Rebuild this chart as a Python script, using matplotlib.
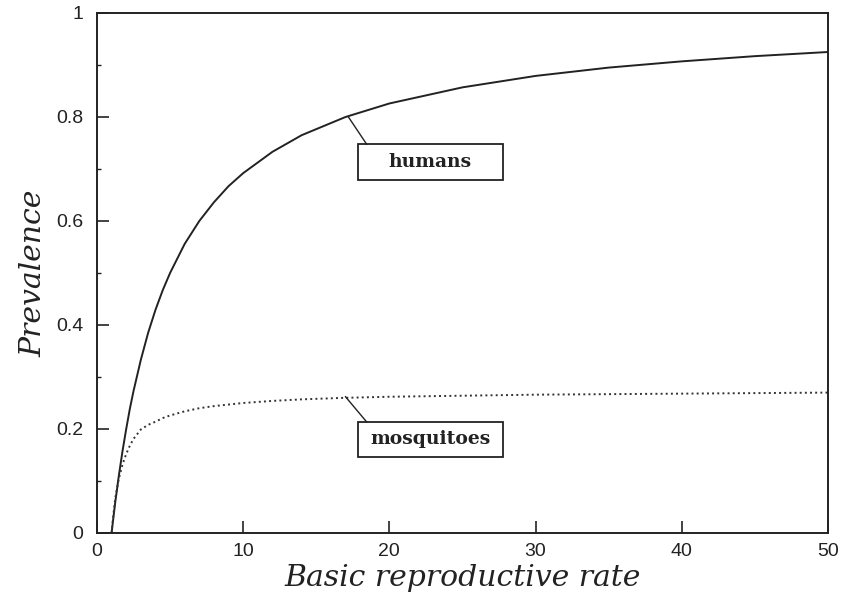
import matplotlib
matplotlib.use("Agg")
from matplotlib import pyplot as plt
from matplotlib.patches import Rectangle
from matplotlib.ticker import MultipleLocator, FuncFormatter

# Basic reproductive rate (R0) and equilibrium prevalence
r0 = [1, 1.1, 1.25, 1.5, 1.75, 2, 2.25, 2.5, 3, 3.5, 4, 4.5, 5, 6, 7, 8,
      9, 10, 12, 14, 17, 20, 25, 30, 35, 40, 45, 50]
humans = [0, 0.024, 0.059, 0.111, 0.158, 0.200, 0.239, 0.273, 0.333,
          0.385, 0.429, 0.467, 0.500, 0.556, 0.600, 0.636, 0.667, 0.692,
          0.733, 0.765, 0.800, 0.826, 0.857, 0.879, 0.895, 0.907, 0.917,
          0.925]
mosquitoes = [0, 0.030, 0.067, 0.105, 0.132, 0.152, 0.168, 0.181, 0.199,
              0.208, 0.214, 0.221, 0.226, 0.234, 0.240, 0.244, 0.247,
              0.250, 0.254, 0.257, 0.260, 0.262, 0.264, 0.266, 0.267,
              0.268, 0.269, 0.270]

# label boxes: text, point on curve, box centre, box size (data units)
labels = [
    ("humans", (17.2, 0.800), (22.8, 0.713), (9.9, 0.069)),
    ("mosquitoes", (17.0, 0.262), (22.8, 0.180), (9.9, 0.067)),
]

fig = plt.figure(figsize=(8.41, 5.99), dpi=100)
ax = fig.add_axes([0.1153, 0.1102, 0.8692, 0.8681])

ax.plot(r0, humans, "-", color="#222222", lw=1.4)
ax.plot(r0, mosquitoes, ":", color="#333333", lw=1.4)

for text, pt, centre, size in labels:
    w, h = size
    x0 = centre[0] - w / 2
    y0 = centre[1] - h / 2
    ax.add_patch(Rectangle((x0, y0), w, h, fill=False, ec="#222222", lw=1.3))
    ax.plot([pt[0], x0 + 0.6], [pt[1], y0 + h], "-", color="#222222", lw=1.0)
    ax.text(centre[0], centre[1], text, ha="center", va="center",
            fontsize=13.5, fontweight="bold", family="DejaVu Serif",
            color="#222222")

ax.set_xlim(0, 50)
ax.set_ylim(0, 1)
ax.xaxis.set_major_locator(MultipleLocator(10))
ax.yaxis.set_major_locator(MultipleLocator(0.2))
ax.yaxis.set_minor_locator(MultipleLocator(0.1))
fmt = FuncFormatter(lambda v, p: "%g" % round(v, 2))
ax.xaxis.set_major_formatter(fmt)
ax.yaxis.set_major_formatter(fmt)

ax.tick_params(which="both", direction="in", top=False, right=False,
               color="#222222", labelcolor="#222222", labelsize=14)
ax.tick_params(which="major", length=8.5, width=1.2)
ax.tick_params(which="minor", length=3, width=1.0)
ax.tick_params(axis="x", which="major", pad=7)
ax.tick_params(axis="y", which="major", pad=10)
for lab in ax.get_xticklabels() + ax.get_yticklabels():
    lab.set_family("Liberation Sans")
for s in ax.spines.values():
    s.set_linewidth(1.4)
    s.set_color("#222222")

ax.set_xlabel("Basic reproductive rate", fontsize=21.5, fontstyle="italic",
              family="DejaVu Serif", color="#222222", labelpad=3)
ax.set_ylabel("Prevalence", fontsize=21.5, fontstyle="italic",
              family="DejaVu Serif", color="#222222", labelpad=6)

fig.savefig("out.png", dpi=100)
